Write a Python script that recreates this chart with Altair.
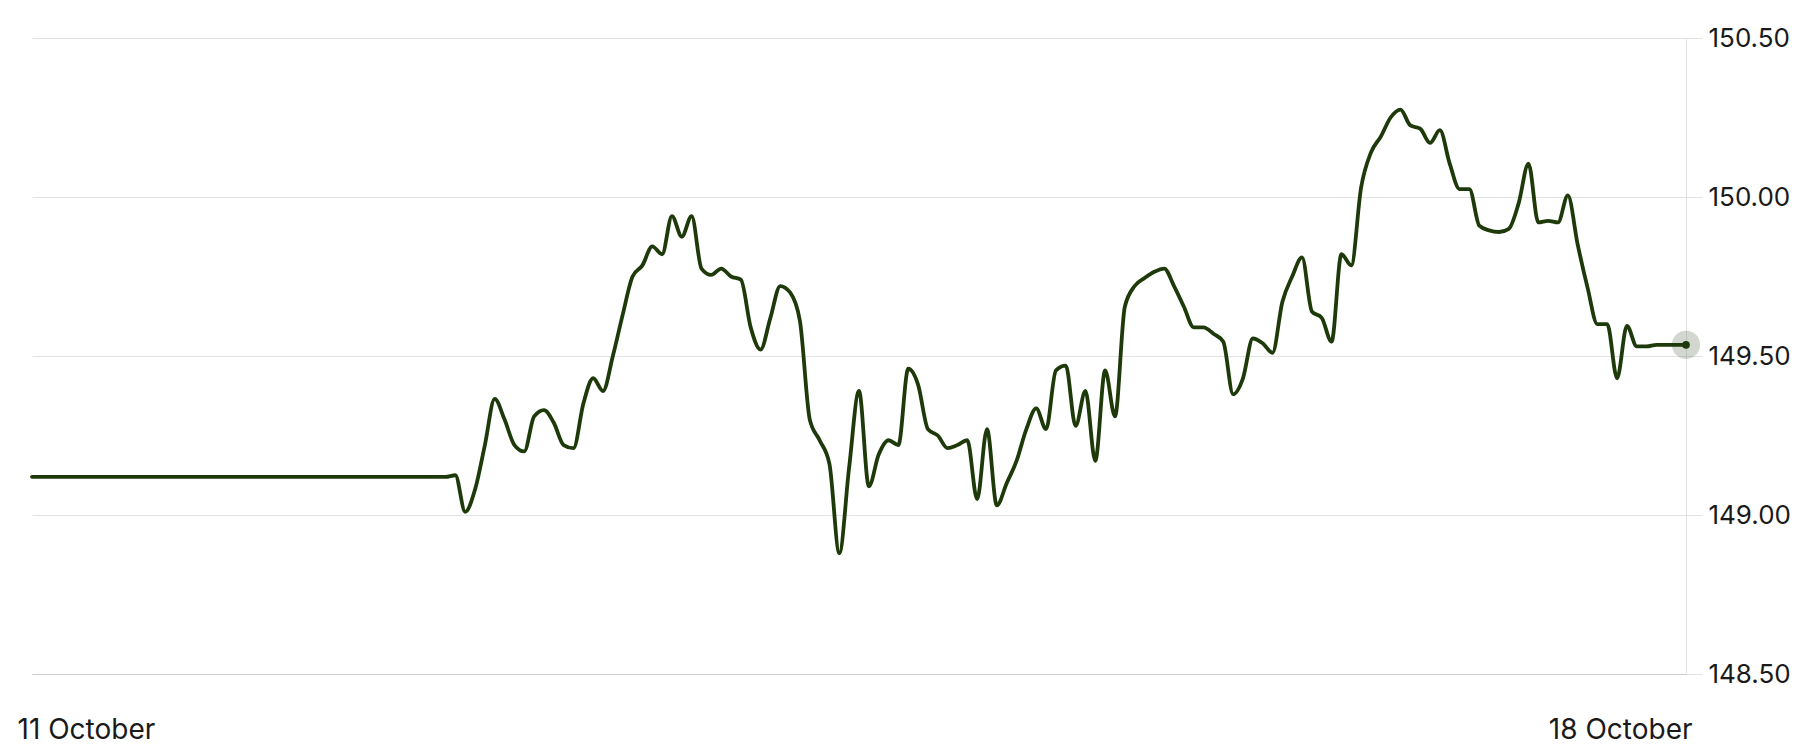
import altair as alt
import pandas as pd

# hours since 11 October 00:00 (hourly quotes, flat stretch at the start)
hours = [0, 42] + list(range(43, 169))
rates = [
    149.12, 149.12,
    149.125, 149.01, 149.08, 149.22, 149.365, 149.30, 149.22, 149.20, 149.31, 149.33,
    149.29, 149.22, 149.21, 149.35, 149.43, 149.39, 149.50, 149.63, 149.75, 149.785,
    149.845, 149.82, 149.94, 149.875, 149.94, 149.775, 149.755, 149.775, 149.75, 149.74,
    149.59, 149.52, 149.62, 149.72, 149.70, 149.61, 149.30, 149.235, 149.16, 148.88,
    149.15, 149.39, 149.09, 149.19, 149.235, 149.22, 149.46, 149.41, 149.27, 149.25,
    149.21, 149.22, 149.235, 149.05, 149.27, 149.03, 149.10, 149.17, 149.27, 149.335,
    149.27, 149.455, 149.47, 149.28, 149.39, 149.17, 149.455, 149.31, 149.655, 149.72,
    149.745, 149.765, 149.775, 149.72, 149.655, 149.59, 149.59, 149.57, 149.545, 149.38,
    149.43, 149.555, 149.54, 149.51, 149.67, 149.75, 149.81, 149.64, 149.62, 149.545,
    149.82, 149.785, 150.03, 150.14, 150.19, 150.25, 150.275, 150.225, 150.215, 150.17,
    150.21, 150.105, 150.025, 150.025, 149.91, 149.895, 149.89, 149.90, 149.98, 150.105,
    149.92, 149.925, 149.92, 150.005, 149.85, 149.715, 149.60, 149.60, 149.43, 149.595,
    149.53, 149.53, 149.535, 149.535, 149.535, 149.535,
]
y_ticks = [148.5, 149.0, 149.5, 150.0, 150.5]
x_tick_hours = [0, 168]
x_tick_labels = ["11 October", "18 October"]

df = pd.DataFrame({"hour": hours, "rate": rates})

LINE = "#1e3a0b"
FONT = "Inter"

label_expr = (
    f"datum.value == {x_tick_hours[0]} ? '{x_tick_labels[0]}' : '{x_tick_labels[1]}'"
)

x_enc = alt.X(
    "hour:Q",
    scale=alt.Scale(domain=[x_tick_hours[0], x_tick_hours[1]], nice=False, zero=False),
    axis=alt.Axis(
        values=x_tick_hours,
        labelExpr=label_expr,
        title=None,
        grid=False,
        ticks=False,
        tickSize=0,
        domainColor="#cccccc",
        domainWidth=1,
        labelFont=FONT,
        labelFontSize=28,
        labelColor="#1a1a1a",
        labelPadding=64,
        labelBaseline="alphabetic",
        labelFlush=False,
        labelAlign={"condition": {"test": "datum.value == 0", "value": "left"}, "value": "right"},
        labelOffset={"condition": {"test": "datum.value == 0", "value": -15}, "value": 6},
    ),
)

y_enc = alt.Y(
    "rate:Q",
    scale=alt.Scale(domain=[y_ticks[0], y_ticks[-1]], nice=False, zero=False),
    axis=alt.Axis(
        orient="right",
        values=y_ticks,
        format=".2f",
        title=None,
        grid=True,
        gridColor="#e2e2e2",
        gridWidth=1,
        domainColor="#e2e2e2",
        tickColor="#e2e2e2",
        tickSize=16,
        labelPadding=6,
        labelFont=FONT,
        labelFontSize=26,
        labelColor="#1a1a1a",
        labelBaseline="middle",
    ),
)

base = alt.Chart(df)

halo = base.transform_filter(alt.datum.hour == x_tick_hours[1]).mark_circle(
    size=800, color="#5f7355", opacity=0.28
).encode(x=x_enc, y=y_enc)

line = base.mark_line(
    color=LINE, strokeWidth=3.8, interpolate="monotone", strokeJoin="round", strokeCap="round"
).encode(x=x_enc, y=y_enc)

dot = base.transform_filter(alt.datum.hour == x_tick_hours[1]).mark_circle(
    size=60, color=LINE, opacity=1
).encode(x=x_enc, y=y_enc)

chart = (
    alt.layer(halo, line, dot)
    .properties(
        width=1654,
        height=636,
        autosize="none",
        padding={"left": 24, "top": 30, "right": 110, "bottom": 72},
        background="white",
    )
    .configure_view(stroke=None)
)

chart.save("out.html", embed_options={"renderer": "svg", "actions": False})
